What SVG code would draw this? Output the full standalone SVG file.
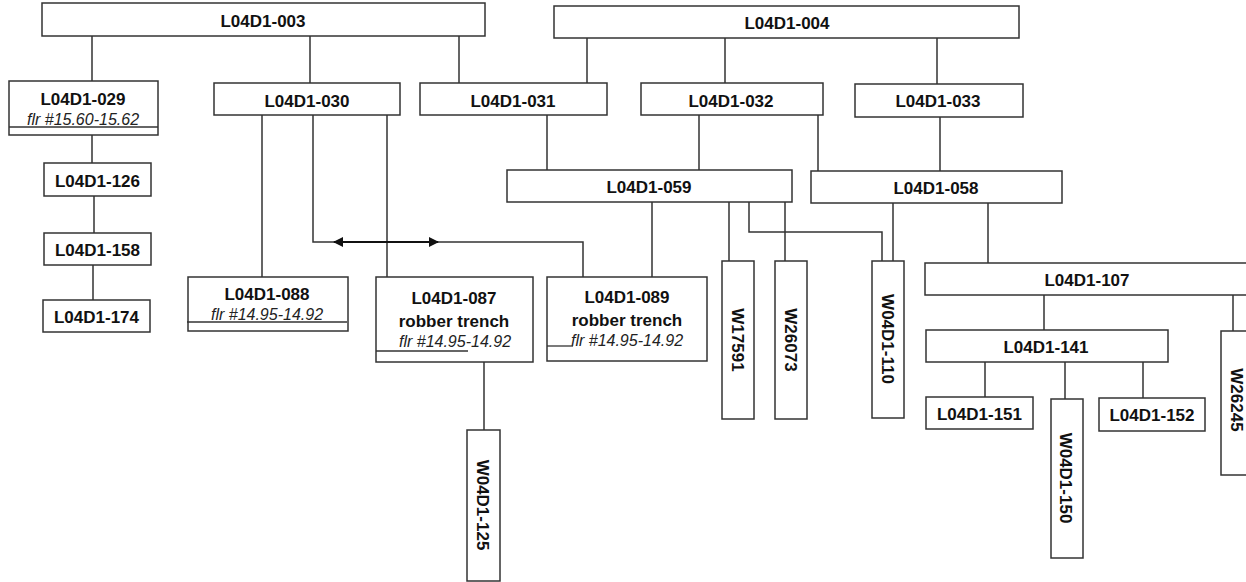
<svg xmlns="http://www.w3.org/2000/svg" width="1246" height="582" viewBox="0 0 1246 582">
<style>
.box{fill:#fff;stroke:#333;stroke-width:1.5}
.ln{fill:none;stroke:#333;stroke-width:1.5}
.t{font-family:"Liberation Sans",Arial,sans-serif;font-weight:bold;font-size:17px;fill:#111;text-anchor:middle}
.i{font-family:"Liberation Sans",Arial,sans-serif;font-style:italic;font-size:16px;fill:#222;text-anchor:middle}
.ul{stroke:#333;stroke-width:1.3}
</style>
<defs>
<marker id="ah" viewBox="0 0 10 10" refX="9" refY="5" markerWidth="5" markerHeight="5" orient="auto-start-reverse" markerUnits="strokeWidth">
<path d="M0,0 L10,5 L0,10 z" fill="#111"/>
</marker>
</defs>
<rect width="1246" height="582" fill="#fff"/>
<g id="connectors">
<path class="ln" d="M92,36V81 M310,36V83 M459,36V83 M587,38V83 M725,38V83 M937,38V84"/>
<path class="ln" d="M92,135V163 M94,196V233 M93,265V300"/>
<path class="ln" d="M262,115V277 M387,115V277 M313,115V242H583V277"/>
<path class="ln" d="M547,115V170 M699,115V170 M818,115V171 M940,117V171"/>
<path class="ln" d="M652,202V277 M729,202V261 M785,202V261 M749,202V232H882V261"/>
<path class="ln" d="M893,203V261 M988,203V263"/>
<path class="ln" d="M484,362V430"/>
<path class="ln" d="M1044,295V330 M1233,295V331"/>
<path class="ln" d="M985,362V397 M1065,362V399 M1143,362V398"/>
<line x1="334" y1="242" x2="438" y2="242" stroke="#111" stroke-width="2" marker-start="url(#ah)" marker-end="url(#ah)"/>
</g>
<g id="n003"><rect class="box" x="42" y="3" width="443" height="33"/><text class="t" x="263" y="27">L04D1-003</text></g>
<g id="n004"><rect class="box" x="554" y="6" width="465" height="32"/><text class="t" x="787" y="29">L04D1-004</text></g>
<g id="n029"><rect class="box" x="9" y="81" width="149" height="54"/><text class="t" x="83" y="105">L04D1-029</text><text class="i" x="83" y="125">flr #15.60-15.62</text><line class="ul" x1="9" y1="127" x2="158" y2="127"/></g>
<g id="n030"><rect class="box" x="214" y="83" width="186" height="32"/><text class="t" x="307" y="107">L04D1-030</text></g>
<g id="n031"><rect class="box" x="420" y="83" width="187" height="32"/><text class="t" x="513" y="107">L04D1-031</text></g>
<g id="n032"><rect class="box" x="641" y="83" width="182" height="32"/><text class="t" x="731" y="107">L04D1-032</text></g>
<g id="n033"><rect class="box" x="855" y="84" width="168" height="33"/><text class="t" x="938" y="107">L04D1-033</text></g>
<g id="n126"><rect class="box" x="44" y="163" width="107" height="33"/><text class="t" x="97.5" y="187">L04D1-126</text></g>
<g id="n158"><rect class="box" x="44" y="233" width="107" height="32"/><text class="t" x="97.5" y="256">L04D1-158</text></g>
<g id="n174"><rect class="box" x="43" y="300" width="107" height="32"/><text class="t" x="96.5" y="323">L04D1-174</text></g>
<g id="n059"><rect class="box" x="507" y="170" width="285" height="32"/><text class="t" x="649" y="193">L04D1-059</text></g>
<g id="n058"><rect class="box" x="811" y="171" width="251" height="32"/><text class="t" x="936" y="194">L04D1-058</text></g>
<g id="n088"><rect class="box" x="188" y="277" width="160" height="54"/><text class="t" x="267" y="300">L04D1-088</text><text class="i" x="267" y="320">flr #14.95-14.92</text><line class="ul" x1="187" y1="322" x2="347" y2="322"/></g>
<g id="n087"><rect class="box" x="376" y="277" width="157" height="85"/><text class="t" x="454" y="304">L04D1-087</text><text class="t" x="454" y="327">robber trench</text><text class="i" x="455" y="347">flr #14.95-14.92</text><line class="ul" x1="376" y1="351" x2="468" y2="351"/></g>
<g id="n089"><rect class="box" x="547" y="277" width="160" height="84"/><text class="t" x="627" y="303">L04D1-089</text><text class="t" x="627" y="326">robber trench</text><text class="i" x="627" y="346">flr #14.95-14.92</text><line class="ul" x1="547" y1="346" x2="573" y2="346"/></g>
<g id="nW17591"><rect class="box" x="722" y="261" width="32" height="158"/><text class="t" x="738" y="346" transform="rotate(90 738 340)">W17591</text></g>
<g id="nW26073"><rect class="box" x="775" y="261" width="32" height="158"/><text class="t" x="791" y="346" transform="rotate(90 791 340)">W26073</text></g>
<g id="nW110"><rect class="box" x="872" y="261" width="32" height="157"/><text class="t" x="888" y="345" transform="rotate(90 888 339)">W04D1-110</text></g>
<g id="n107"><rect class="box" x="925" y="263" width="324" height="32"/><text class="t" x="1087" y="286">L04D1-107</text></g>
<g id="n141"><rect class="box" x="926" y="330" width="242" height="32"/><text class="t" x="1046" y="353">L04D1-141</text></g>
<g id="n151"><rect class="box" x="926" y="397" width="107" height="32"/><text class="t" x="979.5" y="420">L04D1-151</text></g>
<g id="n152"><rect class="box" x="1099" y="398" width="106" height="33"/><text class="t" x="1152" y="421">L04D1-152</text></g>
<g id="nW150"><rect class="box" x="1051" y="399" width="32" height="159"/><text class="t" x="1066" y="484" transform="rotate(90 1066 478)">W04D1-150</text></g>
<g id="nW26245"><rect class="box" x="1221" y="331" width="32" height="144"/><text class="t" x="1237" y="406" transform="rotate(90 1237 400)">W26245</text></g>
<g id="nW125"><rect class="box" x="467" y="430" width="33" height="151"/><text class="t" x="483" y="511" transform="rotate(90 483 505)">W04D1-125</text></g>
</svg>
